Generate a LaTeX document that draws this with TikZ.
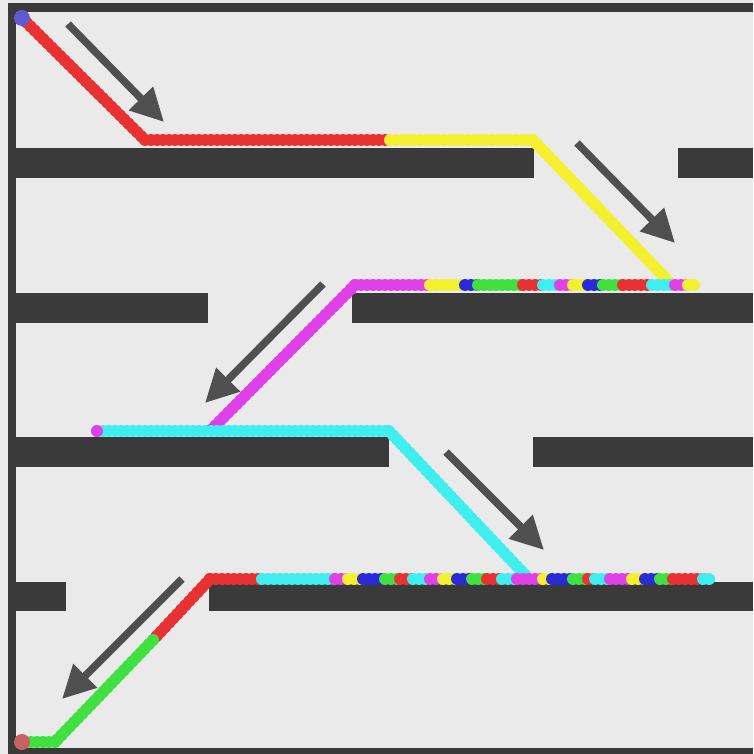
\documentclass[tikz,border=0pt]{standalone}
\usetikzlibrary{arrows.meta}
\definecolor{bg}{HTML}{EAEAEA}
\definecolor{wall}{HTML}{3A3A3A}
\definecolor{arrc}{HTML}{505050}
\definecolor{cred}{HTML}{E83232}
\definecolor{cyel}{HTML}{F4F030}
\definecolor{cmag}{HTML}{E040E8}
\definecolor{ccyn}{HTML}{40EEF0}
\definecolor{cgrn}{HTML}{40E040}
\definecolor{cblu}{HTML}{2A2AD8}
\definecolor{cstart}{HTML}{5C5CD0}
\definecolor{cend}{HTML}{C86262}
\tikzset{
  wallbox/.style={fill=wall,draw=none},
  trail/.style={draw=#1,line width=10.5pt,line cap=round,line join=round},
  beads/.style={draw=#1,line width=12pt,line cap=round,dash pattern=on 0pt off 6pt},
  arr/.style={draw=arrc,line width=7.5pt,-{Triangle[length=33pt,width=32pt]}},
}
\newcommand{\trailseg}[3]{\draw[trail=#1] #2 -- #3; \draw[beads=#1] #2 -- #3;}
\begin{document}
\begin{tikzpicture}[x=1pt,y=-1pt]
\useasboundingbox (0,0) rectangle (753,754);
\fill[bg] (0,0) rectangle (753,754);
% frame
\fill[wall] (8,3) rectangle (753,12);
\fill[wall] (8,3) rectangle (16,754);
\fill[wall] (8,748) rectangle (753,754);
% barriers
\fill[wall] (16,148) rectangle (534,178);
\fill[wall] (678,148) rectangle (753,178);
\fill[wall] (16,293) rectangle (208,323);
\fill[wall] (352,293) rectangle (753,323);
\fill[wall] (16,437) rectangle (389,467);
\fill[wall] (533,437) rectangle (753,467);
\fill[wall] (16,582) rectangle (66,611);
\fill[wall] (209,582) rectangle (753,611);
% trail row 1
\coordinate (s) at (22,18);
\coordinate (r1a) at (145,140);
\coordinate (r1b) at (390,140);
\coordinate (r1c) at (533,140);
\coordinate (r2e) at (672,285);
\trailseg{cred}{(s)}{(r1a)}
\trailseg{cred}{(r1a)}{(r1b)}
\trailseg{cyel}{(r1b)}{(r1c)}
\trailseg{cyel}{(r1c)}{(r2e)}
% row 2
\foreach \xa/\xb/\c in {355/430/cmag,430/465/cyel,465/478/cblu,478/523/cgrn,523/543/cred,543/560/ccyn,560/573/cmag,573/588/cyel,588/603/cblu,603/623/cgrn,623/652/cred,652/675/ccyn,675/688/cmag,688/695/cyel}
  {\trailseg{\c}{(\xa,285)}{(\xb,285)}}
\coordinate (r2a) at (355,285);
\coordinate (r3m) at (210,431);
\trailseg{cmag}{(r2a)}{(r3m)}
% row 3
\coordinate (r3a) at (97,431);
\coordinate (r3b) at (389,431);
\coordinate (r4e) at (528,578);
\trailseg{ccyn}{(r3a)}{(r3b)}
\fill[cmag] (r3a) circle (6);
\trailseg{ccyn}{(r3b)}{(r4e)}
% row 4
\foreach \xa/\xb/\c in {210/262/cred,262/335/ccyn,335/348/cmag,348/363/cyel,363/385/cblu,385/400/cgrn,400/413/cred,413/430/ccyn,430/443/cmag,443/457/cyel,457/472/cblu,472/487/cgrn,487/502/cred,502/517/ccyn,517/543/cmag,543/552/cyel,552/573/cblu,573/588/cgrn,588/595/cred,595/610/ccyn,610/632/cmag,632/645/cyel,645/660/cblu,660/673/cgrn,673/703/cred,703/710/ccyn}
  {\trailseg{\c}{(\xa,579)}{(\xb,579)}}
\coordinate (r4a) at (210,579);
\coordinate (d1) at (153,640);
\coordinate (d2) at (55,742);
\coordinate (g) at (22,742);
\trailseg{cred}{(r4a)}{(d1)}
\trailseg{cgrn}{(d1)}{(d2)}
\trailseg{cgrn}{(d2)}{(g)}
% start / goal dots
\fill[cstart] (s) circle (8);
\fill[cend] (g) circle (8);
% arrows
\coordinate (a1s) at (68,24);  \coordinate (a1e) at (164,122);
\coordinate (a2s) at (577,143); \coordinate (a2e) at (675,243);
\coordinate (a3s) at (323,284); \coordinate (a3e) at (205,403);
\coordinate (a4s) at (446,452); \coordinate (a4e) at (544,550);
\coordinate (a5s) at (182,579); \coordinate (a5e) at (62,699);
\draw[arr] (a1s) -- (a1e);
\draw[arr] (a2s) -- (a2e);
\draw[arr] (a3s) -- (a3e);
\draw[arr] (a4s) -- (a4e);
\draw[arr] (a5s) -- (a5e);
\end{tikzpicture}
\end{document}
